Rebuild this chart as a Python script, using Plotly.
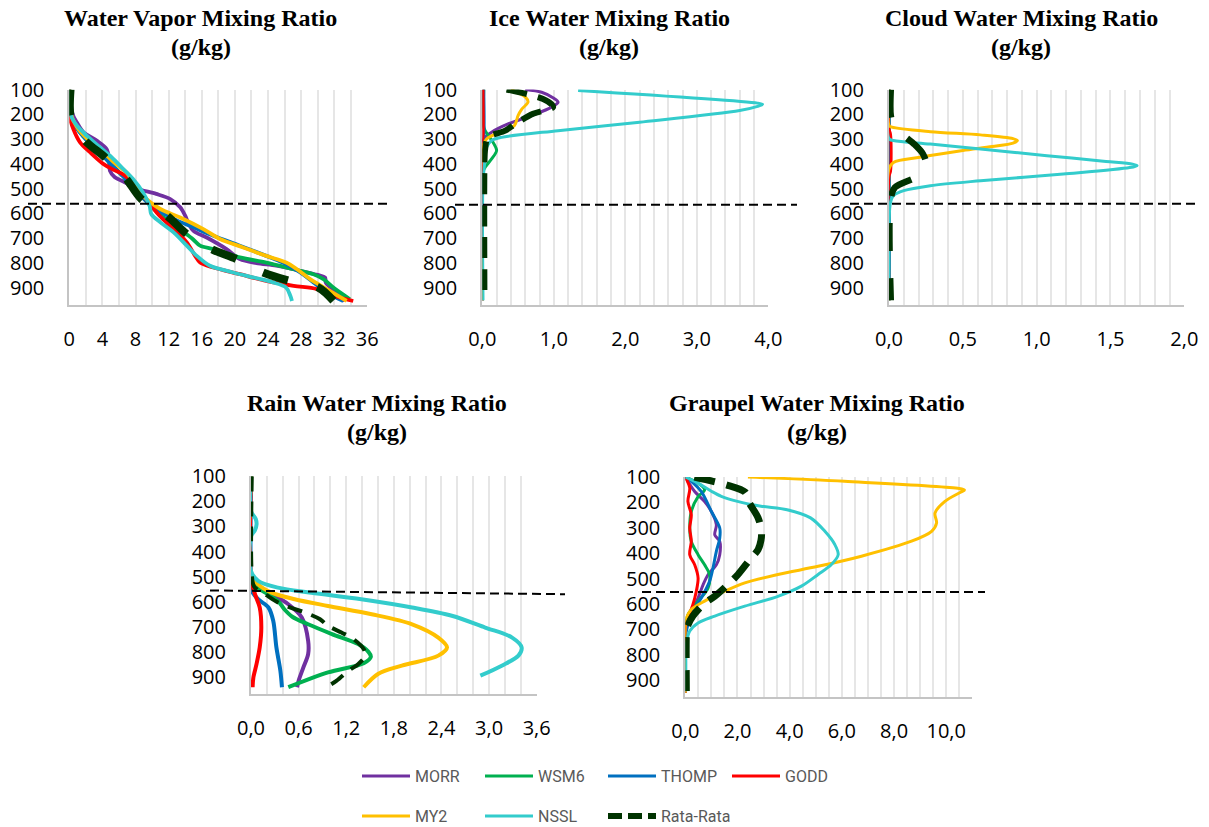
import plotly.graph_objects as go

W, H = 1209, 827

SERIES = ["MORR", "WSM6", "THOMP", "GODD", "MY2", "NSSL", "Rata-Rata"]
COLORS = ["#7030A0", "#00B050", "#0070C0", "#FF0000", "#FFC000", "#33CCCC", "#003300"]

# Pressure levels (hPa) shown on the vertical axes
Y_TICKS = [100, 200, 300, 400, 500, 600, 700, 800, 900]
Y_LABELS = ["100", "200", "300", "400", "500", "600", "700", "800", "900"]

# ---------- Water vapor mixing ratio (g/kg): (pressure, value) ----------
VAPOR_MORR = [(100, 0.0), (150, 0.1), (200, 0.4), (232, 0.9), (272, 1.7), (306, 3.3), (340, 4.5),
              (380, 4.8), (427, 4.9), (454, 5.5), (474, 6.7), (499, 8.1), (521, 10.5), (542, 12.2),
              (575, 13.4), (609, 14.0), (640, 14.4), (670, 15.0), (697, 16.6), (744, 19.0),
              (784, 20.6), (800, 22.6), (810, 25.0), (828, 27.5), (848, 30.0), (858, 30.9),
              (880, 31.0), (919, 32.3), (953, 33.3)]
VAPOR_WSM6 = [(100, 0.0), (200, 0.2), (250, 0.8), (300, 2.0), (350, 3.6), (400, 5.0), (450, 6.5),
              (500, 7.8), (550, 9.3), (600, 10.8), (650, 12.8), (700, 14.8), (730, 15.8),
              (744, 17.4), (777, 20.6), (798, 23.8), (825, 27.1), (845, 29.5), (865, 30.7),
              (899, 31.9), (946, 33.9)]
VAPOR_THOMP = [(100, 0.0), (200, 0.2), (250, 0.8), (300, 2.0), (350, 3.6), (400, 5.0), (450, 6.5),
               (500, 7.8), (550, 9.3), (582, 10.5), (622, 12.6), (656, 15.0), (690, 17.4),
               (730, 20.6), (771, 23.8), (798, 25.8), (838, 27.9), (878, 29.5), (919, 31.1),
               (953, 33.1)]
VAPOR_GODD = [(100, 0.0), (205, 0.0), (260, 0.5), (313, 1.3), (353, 2.5), (400, 4.1), (423, 5.3),
              (447, 6.7), (488, 7.9), (535, 9.1), (569, 9.9), (609, 10.9), (663, 12.6),
              (717, 14.2), (771, 15.2), (798, 15.8), (818, 17.4), (845, 20.6), (872, 23.8),
              (892, 27.1), (905, 29.9), (932, 31.9), (953, 34.3)]
VAPOR_MY2 = [(100, 0.0), (200, 0.2), (250, 0.9), (300, 2.2), (353, 4.1), (400, 5.6), (434, 6.9),
             (480, 7.9), (528, 8.9), (582, 11.0), (616, 13.4), (663, 16.2), (703, 18.2),
             (737, 21.0), (771, 23.8), (798, 26.2), (825, 27.5), (865, 29.1), (905, 31.1),
             (953, 33.5)]
VAPOR_NSSL = [(100, 0.0), (205, 0.2), (245, 0.9), (286, 2.1), (333, 3.7), (373, 5.1), (420, 6.5),
              (461, 7.7), (515, 8.9), (569, 9.7), (602, 9.9), (636, 11.0), (676, 12.6),
              (730, 14.2), (771, 15.4), (811, 17.0), (838, 19.8), (858, 22.2), (878, 24.6),
              (899, 26.2), (932, 26.7), (953, 26.9)]
VAPOR_MEAN = [(100, 0.15), (205, 0.15), (250, 0.8), (306, 1.9), (373, 4.3), (420, 5.7), (461, 6.9),
              (542, 8.7), (609, 11.8), (683, 14.2), (744, 17.2), (784, 20.2), (838, 23.4),
              (872, 26.6), (899, 30.1), (952, 31.9)]

# ---------- Ice water mixing ratio (g/kg) ----------
ICE_MORR = [(100, 0.6), (111, 0.83), (135, 1.0), (151, 1.06), (171, 0.97), (205, 0.69),
            (239, 0.36), (272, 0.13), (293, 0.04), (320, 0.0), (950, 0.0)]
ICE_WSM6 = [(100, 0.02), (250, 0.02), (266, 0.04), (313, 0.15), (346, 0.2), (380, 0.13),
            (414, 0.04), (440, 0.0), (950, 0.0)]
ICE_THOMP = [(100, 0.02), (300, 0.02), (330, 0.0), (950, 0.0)]
ICE_GODD = [(100, 0.01), (290, 0.01), (310, 0.0), (950, 0.0)]
ICE_MY2 = [(100, 0.4), (130, 0.6), (150, 0.64), (180, 0.55), (205, 0.5), (245, 0.45),
           (272, 0.25), (300, 0.06), (340, 0.0), (950, 0.0)]
ICE_NSSL = [(104, 1.34), (155, 3.85), (160, 3.92), (168, 3.85), (185, 3.6), (232, 2.2),
            (266, 1.06), (293, 0.27), (306, 0.13), (333, 0.06), (380, 0.04), (474, 0.01),
            (950, 0.01)]
ICE_MEAN = [(100, 0.34), (117, 0.6), (138, 0.85), (160, 0.97), (171, 0.99), (198, 0.71),
            (239, 0.46), (266, 0.32), (293, 0.08), (340, 0.04), (400, 0.03), (950, 0.03)]

# ---------- Cloud water mixing ratio (g/kg) ----------
CLOUD_MORR = [(100, 0.0), (950, 0.0)]
CLOUD_WSM6 = [(100, 0.0), (950, 0.0)]
CLOUD_THOMP = [(100, 0.0), (950, 0.0)]
CLOUD_GODD = [(100, 0.0), (260, 0.0), (280, 0.01), (430, 0.01), (450, 0.0), (950, 0.0)]
CLOUD_MY2 = [(100, 0.0), (245, 0.0), (252, 0.02), (270, 0.28), (283, 0.62), (298, 0.84),
             (306, 0.87), (316, 0.84), (330, 0.7), (346, 0.5), (373, 0.21), (394, 0.03),
             (420, 0.0), (950, 0.0)]
CLOUD_NSSL = [(100, 0.0), (298, 0.0), (306, 0.03), (320, 0.28), (340, 0.62), (367, 1.07),
              (390, 1.47), (401, 1.65), (407, 1.68), (415, 1.63), (441, 1.18), (468, 0.62),
              (488, 0.28), (508, 0.1), (528, 0.03), (555, 0.01), (950, 0.0)]
CLOUD_MEAN = [(100, 0.012), (205, 0.012), (240, 0.03), (286, 0.1), (320, 0.17), (360, 0.23),
              (400, 0.25), (447, 0.2), (495, 0.04), (540, 0.012), (950, 0.012)]

# ---------- Rain water mixing ratio (g/kg) ----------
RAIN_MORR = [(100, 0.0), (520, 0.0), (537, 0.05), (570, 0.26), (610, 0.47), (663, 0.64),
             (756, 0.72), (809, 0.72), (862, 0.66), (915, 0.6), (941, 0.58)]
RAIN_WSM6 = [(100, 0.0), (515, 0.0), (540, 0.06), (564, 0.18), (597, 0.34), (630, 0.42),
             (660, 0.52), (690, 0.72), (729, 1.02), (769, 1.35), (800, 1.48), (820, 1.51),
             (845, 1.42), (882, 0.97), (941, 0.47)]
RAIN_THOMP = [(100, 0.0), (540, 0.0), (557, 0.01), (590, 0.09), (623, 0.22), (676, 0.28),
              (782, 0.32), (875, 0.37), (941, 0.39)]
RAIN_GODD = [(100, 0.0), (504, 0.0), (570, 0.05), (623, 0.11), (703, 0.13), (782, 0.11),
             (848, 0.07), (902, 0.03), (941, 0.02)]
RAIN_MY2 = [(100, 0.0), (491, 0.0), (531, 0.09), (564, 0.26), (590, 0.55), (617, 0.97),
            (650, 1.52), (690, 2.03), (743, 2.36), (782, 2.47), (815, 2.36), (855, 1.9),
            (888, 1.6), (941, 1.42)]
RAIN_NSSL = [(100, 0.0), (240, 0.0), (270, 0.06), (292, 0.07), (315, 0.05), (340, 0.0),
             (478, 0.0), (517, 0.09), (544, 0.34), (564, 0.76), (590, 1.39), (623, 2.03),
             (656, 2.53), (703, 2.95), (743, 3.29), (782, 3.41), (815, 3.37), (855, 3.16),
             (895, 2.89)]
RAIN_MEAN = [(100, 0.01), (491, 0.01), (540, 0.04), (575, 0.2), (603, 0.34), (623, 0.49),
             (643, 0.68), (670, 0.87), (696, 0.97), (723, 1.14), (749, 1.29), (789, 1.42),
             (815, 1.44), (849, 1.35), (875, 1.23), (915, 1.08), (941, 0.95)]

# ---------- Graupel water mixing ratio (g/kg) ----------
GRAUPEL_MORR = [(100, 0.0), (157, 0.36), (197, 0.74), (236, 1.0), (288, 1.19), (328, 1.13),
                (354, 1.32), (406, 1.32), (446, 1.19), (485, 0.87), (525, 0.68), (577, 0.49),
                (630, 0.23), (669, 0.04), (700, 0.0), (950, 0.0)]
GRAUPEL_WSM6 = [(100, 0.0), (124, 0.49), (150, 0.74), (177, 0.49), (236, 0.23), (301, 0.17),
                (354, 0.23), (406, 0.49), (446, 0.74), (485, 0.93), (538, 0.87), (590, 0.49),
                (643, 0.1), (669, 0.04), (700, 0.0), (950, 0.0)]
GRAUPEL_THOMP = [(100, 0.0), (117, 0.23), (157, 0.61), (236, 1.0), (301, 1.32), (341, 1.32),
                 (393, 1.19), (459, 1.06), (511, 0.93), (577, 0.61), (630, 0.29), (682, 0.1),
                 (708, 0.04), (730, 0.0), (950, 0.0)]
GRAUPEL_GODD = [(100, 0.0), (143, 0.17), (196, 0.1), (249, 0.23), (301, 0.17), (353, 0.23),
                (406, 0.17), (446, 0.36), (498, 0.49), (551, 0.42), (603, 0.29), (656, 0.1),
                (695, 0.0), (950, 0.0)]
GRAUPEL_MY2 = [(100, 2.4), (117, 6.1), (145, 10.5), (151, 10.7), (160, 10.55), (196, 9.95),
               (242, 9.57), (281, 9.63), (314, 9.44), (353, 8.67), (412, 6.75), (452, 5.09),
               (484, 3.55), (517, 2.28), (550, 1.51), (589, 0.74), (622, 0.23), (655, 0.04),
               (681, 0.0), (950, 0.0)]
GRAUPEL_NSSL = [(100, 0.0), (124, 0.49), (156, 1.0), (176, 1.38), (196, 2.0), (215, 2.9),
                (229, 3.9), (261, 4.8), (314, 5.35), (366, 5.73), (406, 5.86), (445, 5.6),
                (484, 5.09), (530, 4.45), (570, 3.55), (609, 2.28), (648, 1.13), (675, 0.49),
                (707, 0.17), (760, 0.04), (852, 0.02), (944, 0.02)]
GRAUPEL_MEAN = [(100, 0.35), (117, 1.06), (130, 1.55), (160, 2.3), (196, 2.42), (261, 2.79),
                (314, 2.92), (350, 2.9), (386, 2.79), (426, 2.47), (484, 2.02), (517, 1.7),
                (570, 1.13), (597, 0.74), (648, 0.29), (694, 0.06), (720, 0.04), (950, 0.04)]

# Horizontal-axis ticks for each panel
VAPOR_XTICKS = [0, 4, 8, 12, 16, 20, 24, 28, 32, 36]
VAPOR_XLABELS = ["0", "4", "8", "12", "16", "20", "24", "28", "32", "36"]
ICE_XTICKS = [0, 1, 2, 3, 4]
ICE_XLABELS = ["0,0", "1,0", "2,0", "3,0", "4,0"]
CLOUD_XTICKS = [0, 0.5, 1.0, 1.5, 2.0]
CLOUD_XLABELS = ["0,0", "0,5", "1,0", "1,5", "2,0"]
RAIN_XTICKS = [0, 0.6, 1.2, 1.8, 2.4, 3.0, 3.6]
RAIN_XLABELS = ["0,0", "0,6", "1,2", "1,8", "2,4", "3,0", "3,6"]
GRAUPEL_XTICKS = [0, 2, 4, 6, 8, 10]
GRAUPEL_XLABELS = ["0,0", "2,0", "4,0", "6,0", "8,0", "10,0"]

# Panel layout: plot box in pixels, axis range, minor grid step, line styles
PANELS = [
    dict(title="Water Vapor Mixing Ratio",
         series=[VAPOR_MORR, VAPOR_WSM6, VAPOR_THOMP, VAPOR_GODD, VAPOR_MY2, VAPOR_NSSL, VAPOR_MEAN],
         box=(69.3, 367.3, 89.5, 304.7), xr=[0, 36], minor=2, ticks=(VAPOR_XTICKS, VAPOR_XLABELS),
         lw=3.8, mw=8, dash="26px,30px", tx=201, ty=(18, 47), ref=(28, 387, 561, 561)),
    dict(title="Ice Water Mixing Ratio",
         series=[ICE_MORR, ICE_WSM6, ICE_THOMP, ICE_GODD, ICE_MY2, ICE_NSSL, ICE_MEAN],
         box=(482.3, 768.3, 89.5, 304.7), xr=[0, 4], minor=0.2, ticks=(ICE_XTICKS, ICE_XLABELS),
         lw=3, mw=6, dash="21px,11px", tx=609, ty=(18, 47), ref=(455, 797, 565, 565)),
    dict(title="Cloud Water Mixing Ratio",
         series=[CLOUD_MORR, CLOUD_WSM6, CLOUD_THOMP, CLOUD_GODD, CLOUD_MY2, CLOUD_NSSL, CLOUD_MEAN],
         box=(889, 1184.3, 89.5, 304.7), xr=[0, 2], minor=0.1, ticks=(CLOUD_XTICKS, CLOUD_XLABELS),
         lw=3, mw=6.5, dash="28px,27px", tx=1021, ty=(18, 47), ref=(850, 1195, 561, 561)),
    dict(title="Rain Water Mixing Ratio",
         series=[RAIN_MORR, RAIN_WSM6, RAIN_THOMP, RAIN_GODD, RAIN_MY2, RAIN_NSSL, RAIN_MEAN],
         box=(251, 536.7, 476.3, 694), xr=[0, 3.6], minor=0.2, ticks=(RAIN_XTICKS, RAIN_XLABELS),
         lw=4, mw=4, dash="15px,10px", tx=377, ty=(403, 432), ref=(210, 565, 555, 570)),
    dict(title="Graupel Water Mixing Ratio",
         series=[GRAUPEL_MORR, GRAUPEL_WSM6, GRAUPEL_THOMP, GRAUPEL_GODD, GRAUPEL_MY2,
                 GRAUPEL_NSSL, GRAUPEL_MEAN],
         box=(685.3, 972.3, 477, 697.3), xr=[0, 11], minor=0.5,
         ticks=(GRAUPEL_XTICKS, GRAUPEL_XLABELS),
         lw=3, mw=7, dash="21px,12px", tx=817, ty=(403, 432), ref=(642, 985, 553, 553)),
]

Y_RANGE = [968, 100]
TICK_FONT = dict(family="Open Sans, Noto Sans, sans-serif", size=20, color="#000000")
TITLE_FONT = dict(family="Liberation Serif, Times New Roman, serif", size=24, color="#000000")
GRID = "#e6e6e6"
AXIS = "#c4c4c4"


def px(x):
    return x / W


def py(y):
    return 1 - y / H


fig = go.Figure()
layout = {}
shapes = []
annotations = []

for i, pan in enumerate(PANELS, start=1):
    sfx = "" if i == 1 else str(i)
    xa, ya = "x" + sfx, "y" + sfx
    x0, x1, y0, y1 = pan["box"]

    for name, color, data in zip(SERIES, COLORS, pan["series"]):
        is_mean = name == "Rata-Rata"
        fig.add_trace(go.Scatter(
            x=[v for _, v in data], y=[p for p, _ in data],
            mode="lines", name=name, showlegend=False, cliponaxis=False,
            line=dict(color=color, width=pan["mw"] if is_mean else pan["lw"],
                      dash=pan["dash"] if is_mean else "solid",
                      shape="spline", smoothing=0.9),
            xaxis=xa, yaxis=ya, hoverinfo="skip"))

    tv, tt = pan["ticks"]
    layout["xaxis" + sfx] = dict(
        domain=[px(x0), px(x1)], range=pan["xr"], anchor=ya, automargin=False,
        tickmode="array", tickvals=tv, ticktext=tt, ticks="",
        showgrid=True, gridcolor=GRID, gridwidth=1.6,
        minor=dict(tickmode="linear", tick0=0, dtick=pan["minor"], showgrid=True,
                   gridcolor=GRID, gridwidth=1.6, ticks=""),
        showline=True, linecolor=AXIS, linewidth=2, zeroline=False,
        tickfont=TICK_FONT, ticklabelstandoff=15, fixedrange=True)
    layout["yaxis" + sfx] = dict(
        domain=[py(y1), py(y0)], range=Y_RANGE, anchor=xa, automargin=False,
        tickmode="array", tickvals=Y_TICKS, ticktext=Y_LABELS, ticks="",
        showgrid=False, showline=True, linecolor=AXIS, linewidth=2, zeroline=False,
        tickfont=TICK_FONT, ticklabelstandoff=19, fixedrange=True)

    rx0, rx1, rp0, rp1 = pan["ref"]
    shapes.append(dict(type="line", xref="paper", yref=ya, x0=px(rx0), x1=px(rx1),
                       y0=rp0, y1=rp1, line=dict(color="#000000", width=2, dash="9px,5px"),
                       layer="above"))

    for text, yy in zip([pan["title"], "(g/kg)"], pan["ty"]):
        annotations.append(dict(text="<b>%s</b>" % text, xref="paper", yref="paper",
                                x=px(pan["tx"]), y=py(yy), xanchor="center", yanchor="middle",
                                showarrow=False, font=TITLE_FONT))

# Legend: two rows of line samples with labels
LEG_X = [362, 485, 608, 732]
LEG_Y = [776, 816]
LEG_LEN = 48
for k, (name, color) in enumerate(zip(SERIES, COLORS)):
    row, col = (0, k) if k < 4 else (1, k - 4)
    lx, ly = LEG_X[col], LEG_Y[row]
    is_mean = name == "Rata-Rata"
    shapes.append(dict(type="line", xref="paper", yref="paper",
                       x0=px(lx), x1=px(lx + LEG_LEN), y0=py(ly), y1=py(ly),
                       line=dict(color=color, width=6 if is_mean else 3,
                                 dash="14px,6px" if is_mean else "solid")))
    annotations.append(dict(text=name, xref="paper", yref="paper",
                            x=px(lx + LEG_LEN + 3), y=py(ly), xanchor="left", yanchor="middle",
                            showarrow=False,
                            font=dict(family="Roboto, Open Sans, sans-serif", size=16,
                                      color="#595959")))

fig.update_layout(
    width=W, height=H, margin=dict(l=0, r=0, t=0, b=0),
    paper_bgcolor="#ffffff", plot_bgcolor="#ffffff",
    showlegend=False, shapes=shapes, annotations=annotations, **layout)

fig.write_html("out.html", config={"displayModeBar": False},
               post_script="document.body.style.margin='0';document.body.style.overflow='hidden';")
